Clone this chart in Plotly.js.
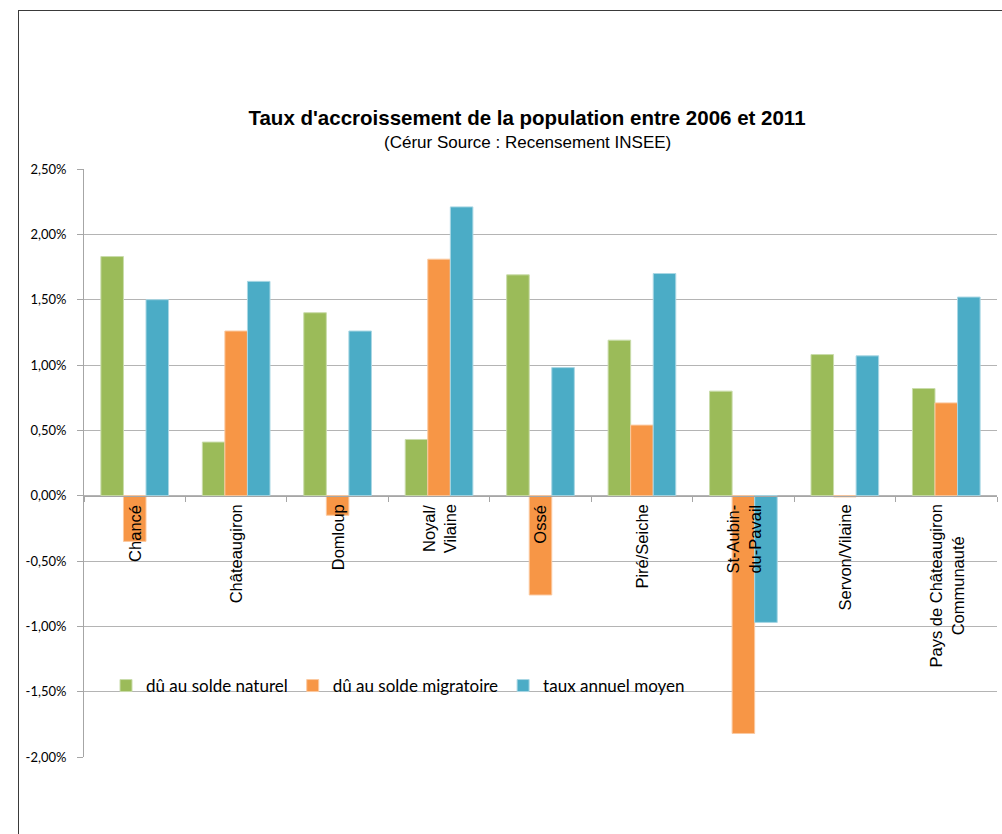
<!DOCTYPE html>
<html>
<head>
<meta charset="utf-8">
<script src="https://cdn.plot.ly/plotly-3.0.1.min.js"></script>
<style>
  html, body { margin: 0; padding: 0; background: #fff; }
  #wrap { position: relative; width: 1002px; height: 834px; overflow: hidden; }
  #frame { position: absolute; left: 18px; top: 10px; width: 1100px; height: 900px; border: 1px solid #3a3a3a; box-sizing: border-box; pointer-events: none; }
  #chart { position: absolute; left: 0; top: 0; width: 1002px; height: 834px; }
</style>
</head>
<body>
<div id="wrap">
  <div id="chart"></div>
  <div id="frame"></div>
</div>
<script>
const categories = ['Chancé', 'Châteaugiron', 'Domloup', 'Noyal/Vilaine', 'Ossé', 'Piré/Seiche', 'St-Aubin-du-Pavail', 'Servon/Vilaine', 'Pays de Châteaugiron Communauté'];
const categoryLabels = ['Chancé', 'Châteaugiron', 'Domloup', 'Noyal/<br>Vilaine', 'Ossé', 'Piré/Seiche', 'St-Aubin-<br>du-Pavail', 'Servon/Vilaine', 'Pays de Châteaugiron<br>Communauté'];
const soldeNaturel = [1.83, 0.41, 1.40, 0.43, 1.69, 1.19, 0.80, 1.08, 0.82];
const soldeMigratoire = [-0.35, 1.26, -0.15, 1.81, -0.76, 0.54, -1.82, -0.01, 0.71];
const tauxAnnuel = [1.50, 1.64, 1.26, 2.21, 0.98, 1.70, -0.97, 1.07, 1.52];
const seriesNames = ['dû au solde naturel', 'dû au solde migratoire', 'taux annuel moyen'];
const yTickVals = [2.5, 2.0, 1.5, 1.0, 0.5, 0, -0.5, -1.0, -1.5, -2.0];
const yTickText = ['2,50%', '2,00%', '1,50%', '1,00%', '0,50%', '0,00%', '-0,50%', '-1,00%', '-1,50%', '-2,00%'];
const titleText = "Taux d'accroissement de la population entre 2006 et 2011";
const subtitleText = '(Cérur Source : Recensement INSEE)';

const colors = ['#9BBB59', '#F79646', '#4BACC6'];
const edge = ['#c9dcaa', '#fbc9a0', '#a9d7e4'];
const yMin = -2.0, yMax = 2.5;

const dataSeries = [soldeNaturel, soldeMigratoire, tauxAnnuel];
const traces = dataSeries.map((vals, i) => ({
  type: 'bar',
  name: seriesNames[i],
  x: categories,
  y: vals,
  marker: { color: colors[i], line: { color: edge[i], width: 1 } },
  hoverinfo: 'x+y+name'
}));

const annotations = categories.map((c, i) => ({
  x: c, y: 0, xref: 'x', yref: 'y',
  text: categoryLabels[i],
  textangle: -90,
  xanchor: 'center', yanchor: 'top',
  yshift: -7,
  align: 'center',
  showarrow: false,
  font: { family: 'Liberation Sans, Arial, sans-serif', size: 16.5, color: '#000' }
}));
annotations.push({
  text: subtitleText, xref: 'paper', yref: 'paper',
  x: (527 - 84) / 913, y: (757 - 142) / 588,
  xanchor: 'center', yanchor: 'middle', showarrow: false,
  font: { family: 'Liberation Sans, Arial, sans-serif', size: 17, color: '#000' }
});

const layout = {
  width: 1002, height: 834,
  margin: { l: 84, r: 5, t: 169, b: 77 },
  paper_bgcolor: 'rgba(0,0,0,0)',
  plot_bgcolor: 'rgba(0,0,0,0)',
  title: {
    text: '<b>' + titleText + '</b>',
    font: { family: 'Liberation Sans, Arial, sans-serif', size: 20.5, color: '#000' },
    xref: 'container', yref: 'container',
    x: 527 / 1002, xanchor: 'center',
    y: 1 - 118 / 834, yanchor: 'middle'
  },
  barmode: 'group',
  bargap: 0.333,
  bargroupgap: 0,
  showlegend: true,
  legend: {
    orientation: 'h',
    x: (106 - 84) / 913, xanchor: 'left',
    y: (757 - 686) / 588, yanchor: 'middle',
    font: { family: 'Lato, sans-serif', size: 17, color: '#000' },
    bgcolor: 'rgba(0,0,0,0)',
    traceorder: 'normal'
  },
  xaxis: {
    type: 'category',
    anchor: 'free',
    position: (0 - yMin) / (yMax - yMin),
    showticklabels: false,
    showgrid: false,
    showline: true, linecolor: '#a6a6a6', linewidth: 1,
    ticks: 'outside', tickson: 'boundaries', ticklen: 5, tickcolor: '#a6a6a6',
    zeroline: false,
    fixedrange: true
  },
  yaxis: {
    range: [yMin, yMax],
    tickvals: yTickVals,
    ticktext: yTickText,
    showgrid: true, gridcolor: '#b4b4b4', gridwidth: 1,
    showline: true, linecolor: '#a6a6a6', linewidth: 1,
    ticks: 'outside', ticklen: 6, tickcolor: '#a6a6a6',
    ticklabelstandoff: 8,
    zeroline: false,
    tickfont: { family: 'Lato, sans-serif', size: 13, color: '#000' },
    fixedrange: true
  },
  annotations: annotations
};

Plotly.newPlot('chart', traces, layout, { displayModeBar: false, staticPlot: true });
</script>
</body>
</html>
